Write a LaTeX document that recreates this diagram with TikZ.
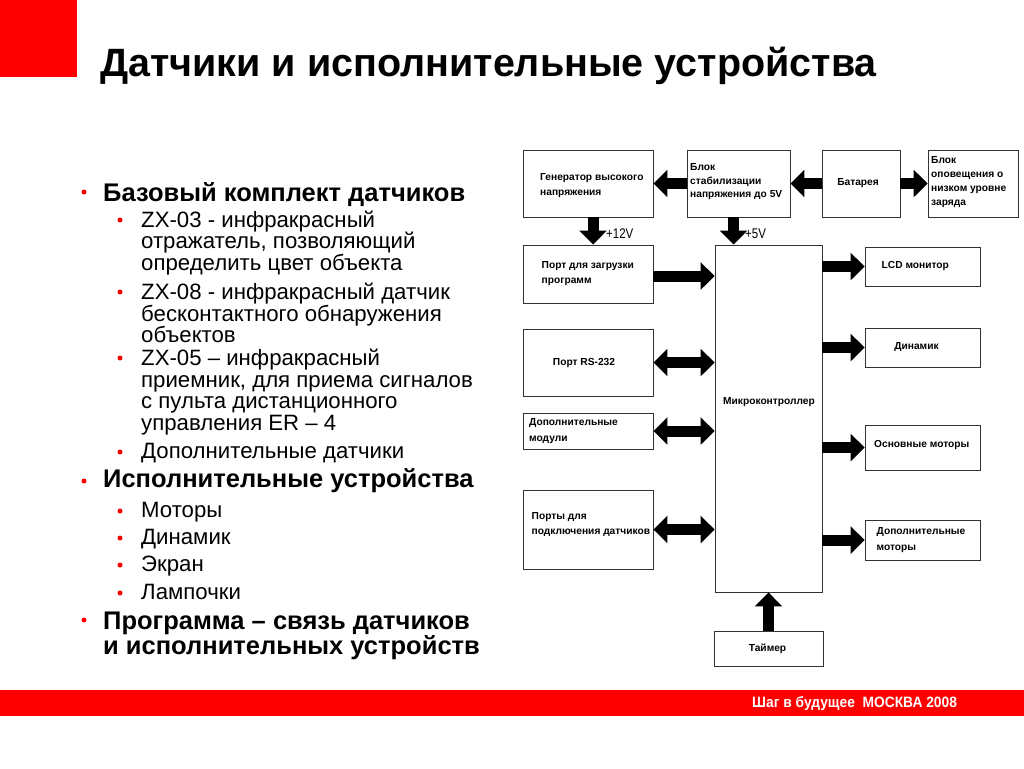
\documentclass[tikz,border=0pt]{standalone}
\usepackage{fontspec}
\setmainfont{Liberation Sans}
\usetikzlibrary{arrows.meta}
\definecolor{slidered}{RGB}{255,0,0}
\begin{document}
\begin{tikzpicture}[x=1pt,y=-1pt,
  box/.style={draw=black!80, line width=0.9pt, fill=white, inner sep=0pt},
  lbl/.style={font=\fontsize{10.2}{14.5}\selectfont\bfseries, align=left, inner sep=0pt, anchor=west},
  clbl/.style={font=\fontsize{10.2}{14.5}\selectfont\bfseries, inner sep=0pt},
  fat/.style={line width=11pt, -{Triangle[width=27pt,length=14pt]}},
  fatboth/.style={line width=11pt, {Triangle[width=27pt,length=14pt]}-{Triangle[width=27pt,length=14pt]}},
  volt/.style={font=\fontsize{14}{14}\selectfont, anchor=west, inner sep=0pt},
  lvla/.style={font=\fontsize{25.5}{25.5}\selectfont\bfseries, anchor=base west, inner sep=0pt},
  lvlb/.style={font=\fontsize{22.2}{22.2}\selectfont, anchor=base west, inner sep=0pt},
  bul/.style={circle, fill=slidered, inner sep=0pt, minimum size=5pt}
]
\useasboundingbox (0,0) rectangle (1024,768);
% decorations
\fill[slidered] (0,0) rectangle (77,77);
\fill[slidered] (0,690) rectangle (1024,716);
\node[font=\fontsize{39.5}{39.5}\selectfont\bfseries, anchor=base west, inner sep=0pt] (title) at (100,76) {Датчики и исполнительные устройства};
\node[anchor=west, inner sep=0pt, text=white, font=\fontsize{15}{15}\selectfont\bfseries] (foot) at (752,704) {\scalebox{0.92}[1]{Шаг в будущее\ \ МОСКВА 2008}};

% left text
\node[bul] (b1) at (84,192) {};
\node[lvla] (t1) at (103,201) {Базовый комплект датчиков};
\node[bul] (b2) at (120,220) {};
\node[lvlb] (t2) at (141,227) {ZX-03 - инфракрасный};
\node[lvlb] (t3) at (141,248) {отражатель, позволяющий};
\node[lvlb] (t4) at (141,270) {определить цвет объекта};
\node[bul] (b3) at (120,292) {};
\node[lvlb] (t5) at (141,299) {ZX-08 - инфракрасный датчик};
\node[lvlb] (t6) at (141,321) {бесконтактного обнаружения};
\node[lvlb] (t7) at (141,342) {объектов};
\node[bul] (b4) at (120,358) {};
\node[lvlb] (t8) at (141,365) {ZX-05 – инфракрасный};
\node[lvlb] (t9) at (141,387) {приемник, для приема сигналов};
\node[lvlb] (t10) at (141,408) {с пульта дистанционного};
\node[lvlb] (t11) at (141,430) {управления ER – 4};
\node[bul] (b5) at (120,452) {};
\node[lvlb] (t12) at (141,458) {Дополнительные датчики};
\node[bul] (b6) at (84,481) {};
\node[lvla] (t13) at (103,487) {Исполнительные устройства};
\node[bul] (b7) at (120,511) {};
\node[lvlb] (t14) at (141,517) {Моторы};
\node[bul] (b8) at (120,538) {};
\node[lvlb] (t15) at (141,544) {Динамик};
\node[bul] (b9) at (120,565) {};
\node[lvlb] (t16) at (141,571) {Экран};
\node[bul] (b10) at (120,593) {};
\node[lvlb] (t17) at (141,599) {Лампочки};
\node[bul] (b11) at (84,620) {};
\node[lvla] (t18) at (103,629) {Программа – связь датчиков};
\node[lvla] (t19) at (103,654) {и исполнительных устройств};

% diagram boxes
\node[box, minimum width=130pt, minimum height=67pt] (gen) at (588,183.5) {};
\node[box, minimum width=103pt, minimum height=67pt] (stab) at (738.5,183.5) {};
\node[box, minimum width=78pt, minimum height=67pt] (bat) at (861,183.5) {};
\node[box, minimum width=90pt, minimum height=67pt] (note) at (973,183.5) {};
\node[box, minimum width=130pt, minimum height=58pt] (port) at (588,274) {};
\node[box, minimum width=107pt, minimum height=347pt] (mc) at (768.5,418.5) {};
\node[box, minimum width=130pt, minimum height=67pt] (rs) at (588,362.5) {};
\node[box, minimum width=130pt, minimum height=36pt] (mod) at (588,431) {};
\node[box, minimum width=130pt, minimum height=79pt] (sens) at (588,529.5) {};
\node[box, minimum width=115pt, minimum height=39pt] (lcd) at (922.5,266.5) {};
\node[box, minimum width=115pt, minimum height=39pt] (din) at (922.5,347.5) {};
\node[box, minimum width=115pt, minimum height=45pt] (osn) at (922.5,447.5) {};
\node[box, minimum width=115pt, minimum height=40pt] (dop) at (922.5,540) {};
\node[box, minimum width=109pt, minimum height=35pt] (tim) at (768.5,648.5) {};

% box labels
\node[lbl] (gent) at (540,185.5) {Генератор высокого\\напряжения};
\node[lbl, font=\fontsize{10.2}{13.5}\selectfont\bfseries] (stabt) at (690,181.7) {Блок\\стабилизации\\напряжения до 5V};
\node[clbl] (batt) at (858,183) {Батарея};
\node[lbl, font=\fontsize{10.2}{13.8}\selectfont\bfseries] (notet) at (931,182) {Блок\\оповещения о\\низком уровне\\заряда};
\node[lbl, font=\fontsize{10.2}{15}\selectfont\bfseries] (portt) at (541.5,274) {Порт для загрузки\\программ};
\node[clbl] (mct) at (769,402) {Микроконтроллер};
\node[clbl] (rst) at (584,363) {Порт RS-232};
\node[lbl, font=\fontsize{10.2}{16}\selectfont\bfseries] (modt) at (529,431) {Дополнительные\\модули};
\node[lbl] (senst) at (531.5,524.5) {Порты для\\подключения датчиков};
\node[lbl] (lcdt) at (881.5,266) {LCD монитор};
\node[clbl] (dint) at (916.5,346.7) {Динамик};
\node[lbl] (osnt) at (874,445) {Основные моторы};
\node[lbl, font=\fontsize{10.2}{16}\selectfont\bfseries] (dopt) at (876.5,540.3) {Дополнительные\\моторы};
\node[clbl] (timt) at (767.5,649) {Таймер};

% connectors
\draw[fat] (stab.west) -- (gen.east);
\draw[fat] (bat.west) -- (stab.east);
\draw[fat] (bat.east) -- (note.west);
\draw[fat] ([xshift=5pt]gen.south) -- ([xshift=5pt]port.north);
\draw[fat] ([xshift=-5pt]stab.south) -- ([xshift=-5pt]stab.south |- mc.north);
\node[volt] (v12) at (606,234) {\scalebox{0.82}[1]{+12V}};
\node[volt] (v5) at (745,234) {\scalebox{0.82}[1]{+5V}};
\draw[fat] ([yshift=-2pt]port.east) -- ([yshift=-2pt]port.east -| mc.west);
\draw[fatboth] (rs.east) -- (rs.east -| mc.west);
\draw[fatboth] (mod.east) -- (mod.east -| mc.west);
\draw[fatboth] (sens.east) -- (sens.east -| mc.west);
\draw[fat] (mc.east |- lcd.west) -- (lcd.west);
\draw[fat] (mc.east |- din.west) -- (din.west);
\draw[fat] (mc.east |- osn.west) -- (osn.west);
\draw[fat] (mc.east |- dop.west) -- (dop.west);
\draw[fat] (tim.north) -- (tim.north |- mc.south);
\end{tikzpicture}
\end{document}
